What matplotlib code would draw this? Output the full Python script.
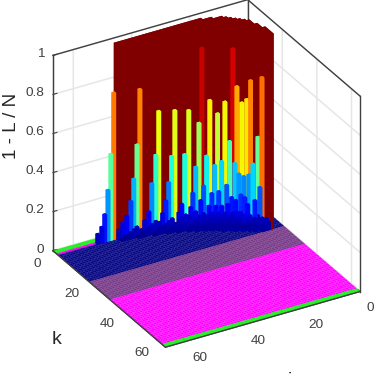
# -*- coding: utf-8 -*-
import numpy as np
import matplotlib
matplotlib.use("Agg")
import matplotlib.pyplot as plt

plt.rcParams["font.family"] = ["Liberation Sans", "DejaVu Sans"]

# rows of the staircases: row k, its columns j and the bar heights
tooth_k = [2.9, 3.9, 4.9, 5.8, 6.8, 7.8, 8.7, 9.7, 10.7, 11.6, 12.6, 13.6, 14.6, 15.5, 16.5, 17.5]
tooth_j = [
    [53.3, 51.9, 50.9, 49.8, 48.8, 47.8],
    [46.6, 45.3, 43.9, 42.5, 41.5, 40.4, 39.4],
    [39.6, 38.3, 36.9, 35.9, 34.5, 33.5],
    [33.7, 32.7, 31.6, 30.6, 29.6, 28.5, 27.5],
    [28.8, 27.7, 26.7, 25.7, 24.3],
    [25.2, 24.2, 23.5, 22.5, 21.4, 20.4],
    [22.7, 21.3, 20.3, 19.3, 18.2],
    [20.5, 19.1, 18.1, 17.1, 16.1],
    [18.7, 17.3, 16.3, 15.3, 14.2],
    [15.8, 14.1, 13.1, 12.0],
    [14.3, 13.0, 11.9, 11.2],
    [13.2, 12.2, 11.1, 10.1],
    [12.4, 11.0, 10.0, 9.0],
    [11.6, 10.2, 8.8, 8.2],
    [11.1, 9.8, 8.0, 6.3],
    [9.7, 7.9, 6.2, 5.5],
]
tooth_h = [
    [0.05, 0.08, 0.14, 0.26, 0.44, 0.75],
    [0.05, 0.08, 0.11, 0.18, 0.29, 0.46, 0.74],
    [0.03, 0.07, 0.11, 0.25, 0.39, 0.61],
    [0.05, 0.09, 0.15, 0.24, 0.37, 0.6, 0.98],
    [0.03, 0.08, 0.12, 0.37, 0.59],
    [0.06, 0.1, 0.17, 0.3, 0.52, 0.9],
    [0.06, 0.13, 0.2, 0.35, 0.63],
    [0.06, 0.1, 0.16, 0.3, 0.56],
    [0.07, 0.1, 0.17, 0.32, 0.62],
    [0.1, 0.2, 0.42, 0.89],
    [0.11, 0.14, 0.31, 0.7],
    [0.07, 0.13, 0.26, 0.62],
    [0.08, 0.16, 0.25, 0.64],
    [0.08, 0.15, 0.26, 0.74],
    [0.07, 0.12, 0.32, 0.45],
    [0.07, 0.14, 0.2, 0.76],
]

# low bars in front of the staircases
low_k = [4.9, 5.8, 6.8, 7.8, 8.7, 9.7, 10.7, 11.6, 12.6, 13.6, 14.6, 15.5, 16.5, 17.5, 18.4, 19.4, 20.4]
low_j = [
    [46, 45, 44, 43, 42, 41],
    [41, 40, 39, 38, 37, 36, 35],
    [36, 35, 34, 33, 32, 31, 30],
    [32, 31, 30, 29, 28, 27, 26],
    [29, 28, 27, 26, 25, 24, 23],
    [26, 25, 24, 23, 22, 21],
    [24, 23, 22, 21, 20, 19],
    [22, 21, 20, 19, 18, 17],
    [20, 19, 18, 17, 16, 15],
    [18, 17, 16, 15, 14],
    [17, 16, 15, 14, 13],
    [15, 14, 13, 12, 11],
    [14, 13, 12, 11, 10, 9],
    [12, 11, 10, 9, 8, 7],
    [10, 9, 8, 7, 6],
    [9, 8, 7, 6, 5],
    [7, 6, 5],
]
low_h = [
    [0.01, 0.02, 0.02, 0.03, 0.04, 0.05],
    [0.01, 0.02, 0.02, 0.03, 0.04, 0.05, 0.06],
    [0.01, 0.02, 0.03, 0.03, 0.04, 0.05, 0.06],
    [0.01, 0.02, 0.03, 0.04, 0.05, 0.06, 0.07],
    [0.02, 0.03, 0.04, 0.05, 0.06, 0.07, 0.08],
    [0.02, 0.03, 0.04, 0.05, 0.06, 0.07],
    [0.02, 0.03, 0.04, 0.05, 0.06, 0.07],
    [0.03, 0.03, 0.04, 0.05, 0.06, 0.07],
    [0.03, 0.03, 0.04, 0.05, 0.06, 0.07],
    [0.03, 0.03, 0.04, 0.05, 0.06],
    [0.03, 0.03, 0.04, 0.05, 0.06],
    [0.03, 0.04, 0.04, 0.05, 0.06],
    [0.03, 0.03, 0.04, 0.04, 0.05, 0.06],
    [0.03, 0.03, 0.04, 0.04, 0.05, 0.06],
    [0.03, 0.03, 0.04, 0.05, 0.05],
    [0.03, 0.04, 0.04, 0.05, 0.05],
    [0.03, 0.04, 0.04],
]

# the plateau at 1: for each column j the rows it covers
wall_j = [47, 46, 45, 44, 43, 42, 41, 40, 39, 38, 37, 36, 35, 34, 33, 32, 31, 30, 29, 28, 27, 26,
          25, 24, 23, 22, 21, 20, 19, 18, 17, 16, 15, 14, 13, 12, 11, 10, 9, 8, 7, 6, 5, 4]
wall_back = [2.9, 2.9, 2.9, 2.9, 2.9, 2.9, 2.9, 2.9, 2.9, 2.9, 2.9, 2.9, 2.9, 2.9, 2.9, 2.9, 2.9, 2.9, 2.9, 2.9, 2.9, 2.9,
             2.9, 2.9, 2.9, 2.9, 2.9, 2.9, 2.9, 2.9, 3.9, 3.9, 3.9, 4.9, 4.9, 4.9, 5.8, 6.8, 7.8, 8.7, 9.7, 10.7, 13.6, 16.5]
wall_front = [2.9, 2.9, 2.9, 2.9, 2.9, 2.9, 2.9, 2.9, 3.9, 3.9, 3.9, 3.9, 3.9, 3.9, 4.9, 4.9, 4.9, 4.9, 4.9, 5.8, 5.8, 5.8,
              5.8, 6.8, 6.8, 6.8, 6.8, 7.8, 7.8, 8.7, 8.7, 9.7, 9.7, 10.7, 10.7, 11.6, 12.6, 13.6, 14.6, 15.5, 15.5, 16.5, 17.5, 20.4]

# floor bands along k
band_edges = [0, 2, 3, 21, 33, 63, 65]
band_colors = ["#1ff01f", "#ff00ff", "#06067f", "#7a3a8a", "#ff00ff", "#1ff01f"]
band_lines = ["#1ff01f", "#ff00ff", "#1c1c98", "#845094", "#ff30ff", "#1ff01f"]

z_ticks = [0, 0.2, 0.4, 0.6, 0.8, 1]
z_labels = ["0", "0.2", "0.4", "0.6", "0.8", "1"]
jk_ticks = [0, 20, 40, 60]
j_max, k_max = 67, 65
dark = "#404040"

fig = plt.figure(figsize=(3.74, 3.74), dpi=100)
ax = fig.add_axes([14.5/374, 8.5/374, 1, 1], projection="3d", proj_type="ortho")
ax.set_box_aspect((1, 1, 1), zoom=1.011)
ax.view_init(elev=29.7, azim=60)
ax.computed_zorder = False
ax.patch.set_alpha(0)

ax.set_xlim(0, j_max)
ax.set_ylim(0, k_max)
ax.set_zlim(0, 1)

# floor
for i in range(len(band_colors)):
    J, K = np.meshgrid(np.arange(0, j_max+1), np.arange(band_edges[i], band_edges[i+1]+1))
    ax.plot_surface(J, K, np.zeros_like(J, dtype=float), rstride=1, cstride=1, color=band_colors[i],
                    edgecolor=band_lines[i], linewidth=0.25, shade=False, zorder=1)

# plateau
zo = 2
for j, kb, kf in zip(wall_j, wall_back, wall_front):
    ax.bar3d(j-0.5, kb-0.5, 0, 1, kf-kb+1, 1, color=plt.cm.jet(1.0), shade=False, zorder=zo)
    zo += 1

# bars, far ones first
bars = []
for k, js, hs in zip(tooth_k + low_k, tooth_j + low_j, tooth_h + low_h):
    for j, h in zip(js, hs):
        bars.append((k, j, h))
bars.sort()
for k, j, h in bars:
    # the reference's jet reaches yellow a little earlier than matplotlib's
    ax.bar3d(j-0.5, k-0.5, 0, 1, 1, h, color=plt.cm.jet(min(h*1.04, 1.0)), shade=False, zorder=zo)
    zo += 1

# box edges over the grid
top_j, top_k = [j_max, 0, 0], [0, 0, k_max]
ax.plot(top_j, top_k, [1, 1, 1], color=dark, lw=1.0, zorder=1)
for j, k in [(j_max, 0), (0, 0), (0, k_max)]:
    ax.plot([j, j], [k, k], [0, 1], color=dark, lw=1.0, zorder=1)
ax.plot([j_max, j_max, 0], [0, k_max, k_max], [0, 0, 0], color=dark, lw=1.0, zorder=zo)

for axis in (ax.xaxis, ax.yaxis, ax.zaxis):
    axis.pane.set_facecolor("white")
    axis.pane.set_edgecolor("white")
    axis.line.set_color(dark)
    axis._axinfo["grid"].update(color="#e6e6e6", linewidth=1.1)
    axis._axinfo["tick"].update(inward_factor=0.0, outward_factor=0.25, linewidth={True: 0.8, False: 0.5}, color=dark)

ax.set_xticks(jk_ticks)
ax.set_yticks(jk_ticks)
ax.set_zticks(z_ticks)
ax.set_zticklabels(z_labels)
ax.tick_params(axis="both", labelsize=9.7, labelcolor=dark, colors=dark, pad=0)
ax.tick_params(axis="z", labelsize=9.7, pad=-4)
ax.tick_params(axis="y", pad=3)
for t in ax.get_xticklabels():
    t.set_va("center")
    t.set_ha("left")
for t in ax.get_yticklabels():
    t.set_va("bottom")
for t in ax.get_zticklabels():
    t.set_va("center")
    t.set_ha("right")

fig.text(12/374, 1-126/374, "1 - L / N", rotation=90, fontsize=13.5, color="#262626", ha="center", va="center")
fig.text(57/374, 1-340/374, "k", fontsize=14, color="#262626", ha="center", va="center")
fig.text(290/374, 1-372/374, "j", fontsize=14, color="#262626", ha="center", va="top")

fig.savefig("out.png", dpi=100)
